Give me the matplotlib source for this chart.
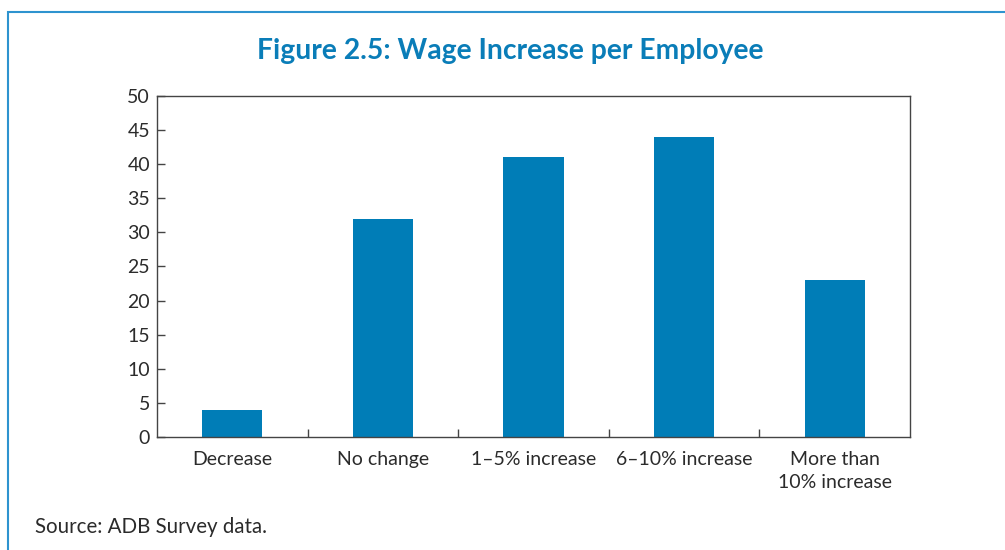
import matplotlib.pyplot as plt
from matplotlib.patches import Rectangle

plt.rcParams['font.family'] = ['Lato', 'DejaVu Sans']

categories = ['Decrease', 'No change', '1–5% increase', '6–10% increase', 'More than\n10% increase']
values = [4, 32, 41, 44, 23]
yticks = [0, 5, 10, 15, 20, 25, 30, 35, 40, 45, 50]

blue = '#007DB7'
edge = '#444444'
txt = '#2b2b2b'

fig = plt.figure(figsize=(10.05, 5.5), dpi=100)
ax = fig.add_axes([0.1562, 0.2055, 0.7493, 0.62])

x = range(len(categories))
ax.bar(x, values, width=0.4, color=blue)

ax.set_xlim(-0.5, len(categories) - 0.5)
ax.set_ylim(0, 50)
ax.set_yticks(yticks)
ax.tick_params(axis='y', direction='in', length=6, width=1, color=edge,
               labelsize=14, labelcolor=txt, pad=5)

# category labels without ticks, short ticks between categories
ax.set_xticks(list(x))
ax.set_xticklabels(categories, fontsize=14, color=txt, linespacing=1.45)
ax.tick_params(axis='x', which='major', length=0, pad=10)
ax.set_xticks([i + 0.5 for i in range(len(categories) - 1)], minor=True)
ax.tick_params(axis='x', which='minor', direction='in', length=6, width=1, color=edge)

for s in ax.spines.values():
    s.set_color(edge)
    s.set_linewidth(1)

fig.text(0.508, 0.908, 'Figure 2.5: Wage Increase per Employee', ha='center', va='center',
         fontsize=20.3, fontweight='bold', color='#0A7DB8')
fig.text(0.035, 0.042, 'Source: ADB Survey data.', ha='left', va='center',
         fontsize=14.8, color=txt)

# outer frame around the figure block
fig.patches.append(Rectangle((8 / 1005, -0.1), 1.1, 1.1 - 12 / 550,
                             transform=fig.transFigure, fill=False,
                             edgecolor='#2E93CF', linewidth=1.5))

fig.savefig('out.png', dpi=100)
